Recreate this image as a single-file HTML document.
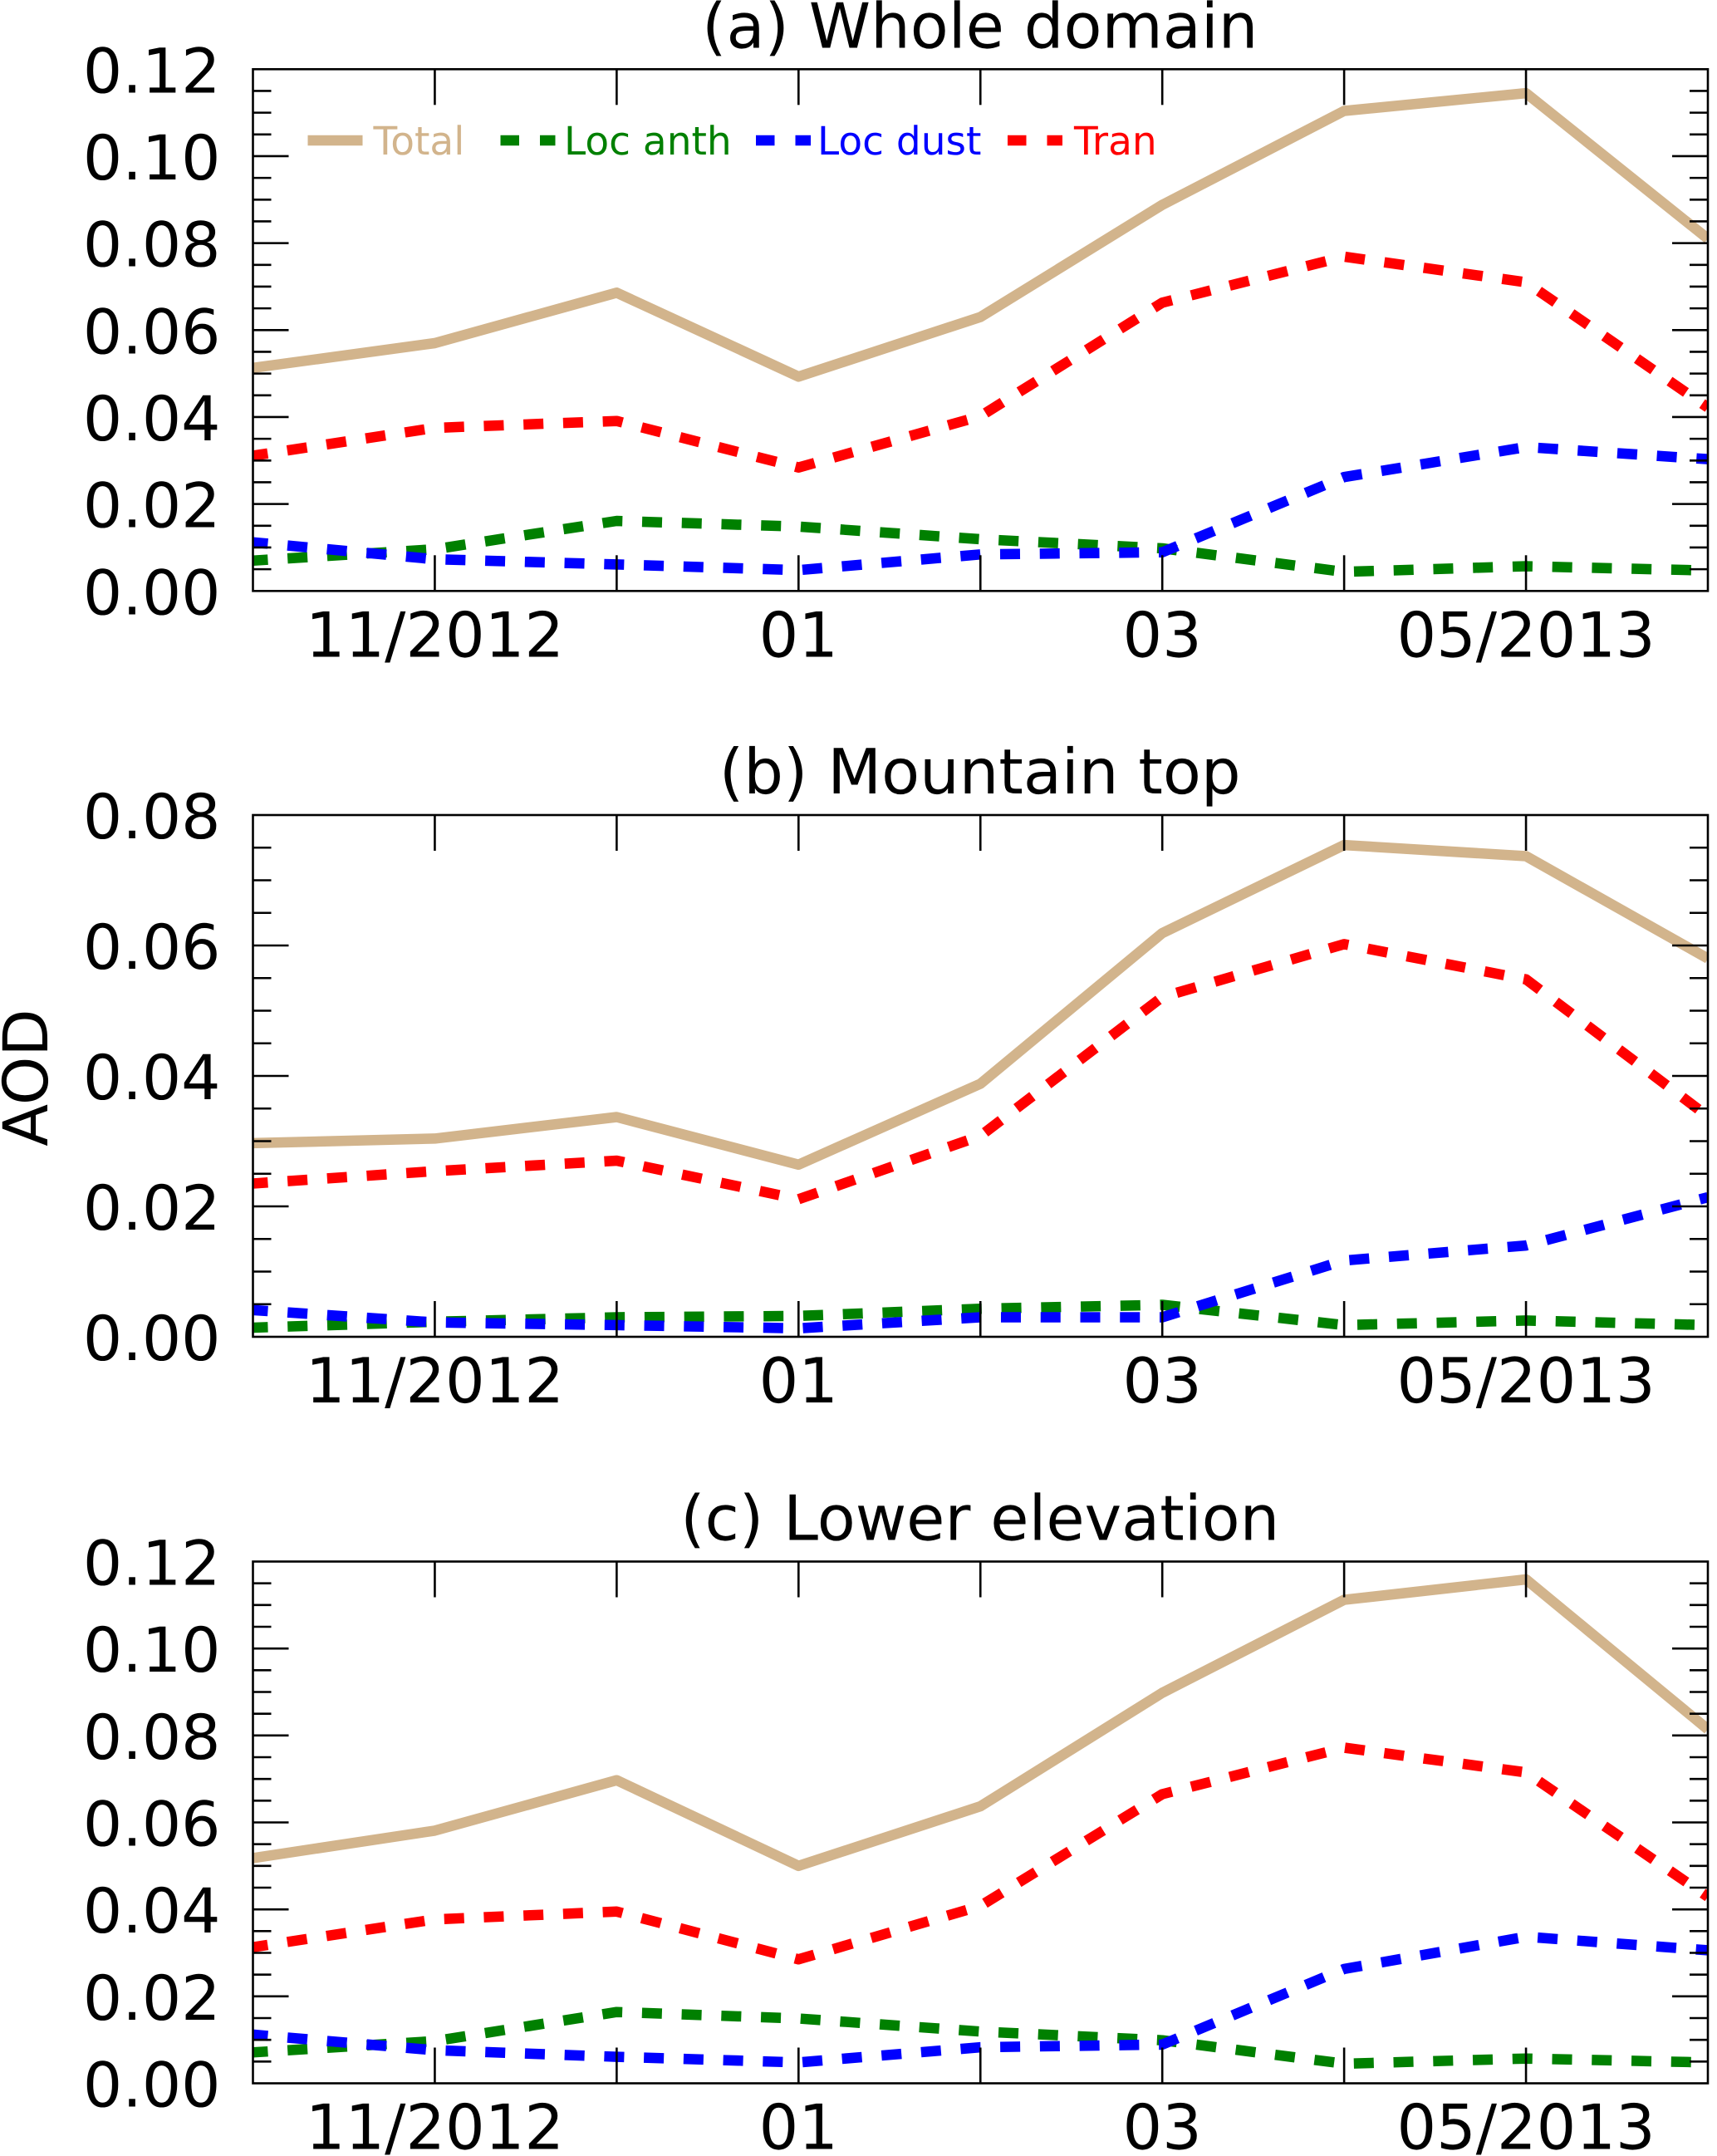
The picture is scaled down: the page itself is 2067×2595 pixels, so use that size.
<!DOCTYPE html>
<html lang="en">
<head>
<meta charset="utf-8">
<title>AOD time series</title>
<style>
  html, body { margin: 0; padding: 0; background: #ffffff; }
  svg { display: block; }
  text { font-family: "DejaVu Sans", "Liberation Sans", sans-serif; fill: #000000; text-rendering: geometricPrecision; }
</style>
</head>
<body>
<svg id="chart" xmlns="http://www.w3.org/2000/svg" width="2067" height="2595" viewBox="0 0 2067 2595">
  <rect x="0" y="0" width="2067" height="2595" fill="#ffffff"/>
</svg>
<script>
// Chart data
const months = [0, 1, 2, 3, 4, 5, 6, 7, 8];
const monthTickLabels = ['', '11/2012', '', '01', '', '03', '', '05/2013', ''];

const panelTitles = ['(a) Whole domain', '(b) Mountain top', '(c) Lower elevation'];
const panelYMax = [0.12, 0.08, 0.12];
const yTickLabelsA = ['0.00', '0.02', '0.04', '0.06', '0.08', '0.10', '0.12'];
const yTickLabelsB = ['0.00', '0.02', '0.04', '0.06', '0.08'];
const yTickLabelsC = ['0.00', '0.02', '0.04', '0.06', '0.08', '0.10', '0.12'];

const seriesNames = ['Total', 'Loc anth', 'Loc dust', 'Tran'];

const totalA = [0.0513, 0.0570, 0.0686, 0.0493, 0.0630, 0.0888, 0.1104, 0.1145, 0.0810];
const anthA  = [0.0070, 0.0096, 0.0161, 0.0148, 0.0119, 0.0098, 0.0044, 0.0057, 0.0047];
const dustA  = [0.0112, 0.0073, 0.0061, 0.0048, 0.0084, 0.0089, 0.0262, 0.0331, 0.0303];
const tranA  = [0.0311, 0.0375, 0.0391, 0.0284, 0.0402, 0.0663, 0.0769, 0.0710, 0.0422];

const totalB = [0.0297, 0.0304, 0.0337, 0.0264, 0.0388, 0.0619, 0.0754, 0.0737, 0.0580];
const anthB  = [0.0014, 0.0023, 0.0030, 0.0032, 0.0043, 0.0049, 0.0018, 0.0025, 0.0018];
const dustB  = [0.0041, 0.0022, 0.0018, 0.0013, 0.0030, 0.0030, 0.0117, 0.0140, 0.0214];
const tranB  = [0.0235, 0.0254, 0.0270, 0.0211, 0.0308, 0.0521, 0.0602, 0.0548, 0.0338];

const totalC = [0.0518, 0.0581, 0.0697, 0.0500, 0.0637, 0.0898, 0.1112, 0.1159, 0.0814];
const anthC  = [0.0071, 0.0097, 0.0164, 0.0149, 0.0119, 0.0099, 0.0045, 0.0057, 0.0048];
const dustC  = [0.0112, 0.0076, 0.0061, 0.0048, 0.0083, 0.0089, 0.0263, 0.0337, 0.0306];
const tranC  = [0.0313, 0.0377, 0.0395, 0.0285, 0.0408, 0.0665, 0.0772, 0.0715, 0.0429];

const panelSeries = [
  [totalA, anthA, dustA, tranA],
  [totalB, anthB, dustB, tranB],
  [totalC, anthC, dustC, tranC]
];
const panelTickLabels = [yTickLabelsA, yTickLabelsB, yTickLabelsC];
const panelSlugs = ['a', 'b', 'c'];
const minorStep = 0.005;

// Layout and style
const svg = document.getElementById('chart');
const NS = 'http://www.w3.org/2000/svg';
const LEFT = 304.5, RIGHT = 2056, HEIGHT = 628;
const TOPS = [83.3, 981, 1879.5];
const COLORS = ['#d2b48c', '#008000', '#0000ff', '#ff0000'];
const SLUGS = ['total', 'loc-anth', 'loc-dust', 'tran'];
const LINE_W = 12.5, AXIS_W = 2.6, MAJOR = 43, MINOR = 22;
const FONT_TITLE = 75.2, FONT_X = 74.9, FONT_Y = 74.4, FONT_LEGEND = 47;

function xScale(m) {
  return LEFT + (m - months[0]) / (months[months.length - 1] - months[0]) * (RIGHT - LEFT);
}
function yScale(v, panel) {
  return TOPS[panel] + HEIGHT - (v / panelYMax[panel]) * HEIGHT;
}
function make(tag, attrs, parent) {
  const el = document.createElementNS(NS, tag);
  for (const k in attrs) el.setAttribute(k, attrs[k]);
  parent.appendChild(el);
  return el;
}
function tick(parent, x1, y1, x2, y2) {
  const t = make('line', { x1: x1, y1: y1, x2: x2, y2: y2, stroke: '#000', 'stroke-width': AXIS_W }, parent);
  
  
}

panelTitles.forEach(function (title, p) {
  const top = TOPS[p], bottom = top + HEIGHT;

  const group = make('g', {}, svg);
  
  

  const clip = make('clipPath', { id: 'clip-' + p }, group);
  make('rect', { x: LEFT, y: top, width: RIGHT - LEFT, height: HEIGHT }, clip);

  // series
  const lines = make('g', { 'clip-path': 'url(#clip-' + p + ')' }, group);
  
  
  panelSeries[p].forEach(function (values, s) {
    const pts = values.map(function (v, i) {
      return xScale(months[i]).toFixed(1) + ',' + yScale(v, p).toFixed(1);
    }).join(' ');
    const line = make('polyline', {
      points: pts, fill: 'none', stroke: COLORS[s], 'stroke-width': LINE_W,
      'stroke-linejoin': 'round', 'stroke-linecap': 'butt'
    }, lines);
    if (s > 0) {
      line.setAttribute('stroke-dasharray', '24 23.76');
      line.setAttribute('stroke-dashoffset', '6');
    }
    
    
  });

  // x ticks, top and bottom
  months.forEach(function (m, i) {
    const x = xScale(m);
    if (i > 0 && i < months.length - 1) {
      tick(group, x, top, x, top + MAJOR);
      tick(group, x, bottom, x, bottom - MAJOR);
    }
    if (monthTickLabels[i]) {
      const lab = make('text', { x: x, y: bottom + 79, 'text-anchor': 'middle', 'font-size': FONT_X }, group);
      lab.textContent = monthTickLabels[i];
      
      
    }
  });

  // y minor ticks, left and right
  const nMinor = Math.round(panelYMax[p] / minorStep);
  for (let k = 1; k < nMinor; k++) {
    const y = yScale(k * minorStep, p);
    const len = k % 4 === 0 ? MAJOR : MINOR;
    tick(group, LEFT, y, LEFT + len, y);
    tick(group, RIGHT, y, RIGHT - len, y);
  }

  // y tick labels
  panelTickLabels[p].forEach(function (label) {
    const lab = make('text', {
      x: 265.5, y: yScale(parseFloat(label), p) + 28,
      'text-anchor': 'end', 'font-size': FONT_Y
    }, group);
    lab.textContent = label;
    
    
  });

  // frame
  const frame = make('rect', {
    x: LEFT, y: top, width: RIGHT - LEFT, height: HEIGHT,
    fill: 'none', stroke: '#000', 'stroke-width': AXIS_W
  }, group);
  
  

  // title
  const ttl = make('text', {
    x: (LEFT + RIGHT) / 2 - 0.5, y: top - 26, 'text-anchor': 'middle', 'font-size': FONT_TITLE
  }, group);
  ttl.textContent = title;
  
  
});

// y axis title
const yTitle = make('text', {
  transform: 'translate(57 1297) rotate(-90)', x: 0, y: 0,
  'text-anchor': 'middle', 'font-size': FONT_Y
}, svg);
yTitle.textContent = 'AOD';



// legend
const legendHandleX = [370.5, 602.5, 910, 1213];
const legendTextX = [449.5, 679, 984, 1293];
const legend = make('g', {}, svg);


seriesNames.forEach(function (name, s) {
  const entry = make('g', {}, legend);
  
  
  const handle = make('line', {
    x1: legendHandleX[s], y1: 169, x2: legendHandleX[s] + 66, y2: 169,
    stroke: COLORS[s], 'stroke-width': LINE_W
  }, entry);
  if (s > 0) handle.setAttribute('stroke-dasharray', '22.5 25');
  
  
  const label = make('text', { x: legendTextX[s], y: 186, 'font-size': FONT_LEGEND }, entry);
  label.style.fill = COLORS[s];
  label.textContent = name;
  
  
});
</script>
</body>
</html>
